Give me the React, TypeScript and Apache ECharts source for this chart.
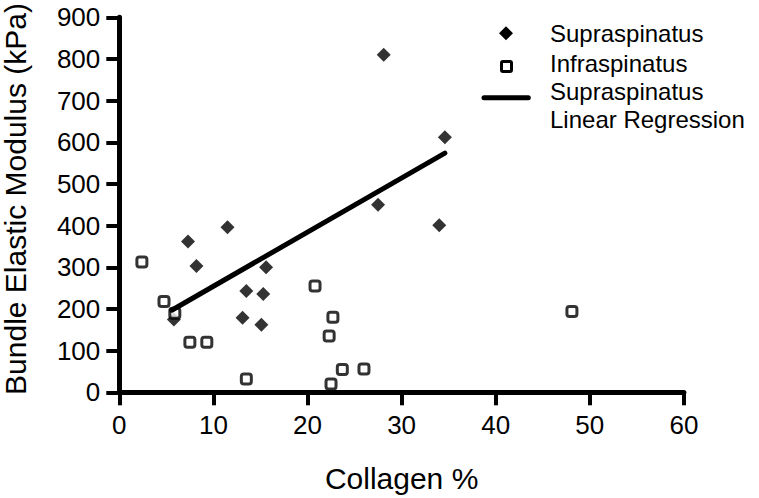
import React, { useEffect, useRef } from "react";
import * as echarts from "echarts";

const supraX = [5.8, 7.3, 8.2, 11.5, 13.1, 13.5, 15.1, 15.3, 15.6, 27.5, 28.1, 34.0, 34.6];
const supraY = [175, 362, 303, 396, 179, 243, 162, 236, 300, 450, 810, 401, 612];
const infraX = [2.4, 4.75, 5.9, 7.5, 9.3, 13.5, 20.8, 22.3, 22.5, 22.7, 23.7, 26.0, 48.1];
const infraY = [313, 218, 190, 120, 120, 32, 255, 135, 20, 180, 55, 56, 194];
const regX = [5.57, 34.6];
const regY = [197, 574];
const legendNames = ["Supraspinatus", "Infraspinatus", "Supraspinatus", "Linear Regression"];
const xTitle = "Collagen %";
const yTitle = "Bundle Elastic Modulus (kPa)";

const FONT = "'Liberation Sans', Arial, Helvetica, sans-serif";

export default function App() {
  const ref = useRef<HTMLDivElement>(null);
  useEffect(() => {
    if (!ref.current) return;
    const chart = echarts.init(ref.current, undefined, { renderer: "svg" });
    const zip = (xs: number[], ys: number[]) => xs.map((x, i) => [x, ys[i]]);
    const axisCommon = {
      axisLine: { show: true, lineStyle: { color: "#000", width: 5 } },
      axisTick: { show: true, length: 13, lineStyle: { color: "#000", width: 4 } },
      splitLine: { show: false },
    };
    const legendText = (text: string, y: number) => ({
      type: "text",
      left: 550,
      top: y - 13,
      style: { text, fill: "#000", font: `24px ${FONT}` },
    });
    chart.setOption({
      animation: false,
      backgroundColor: "#fff",
      grid: {
        left: 119.3,
        right: 75.1,
        top: 17.3,
        bottom: 105.7,
        containLabel: false,
        outerBoundsMode: "none",
      },
      xAxis: {
        type: "value",
        min: 0,
        max: 60,
        interval: 10,
        name: xTitle,
        nameLocation: "middle",
        nameGap: 70.7,
        nameTextStyle: { fontFamily: FONT, fontSize: 30, color: "#000" },
        axisLabel: { margin: 20, fontFamily: FONT, fontSize: 26, color: "#000" },
        ...axisCommon,
      },
      yAxis: {
        type: "value",
        min: 0,
        max: 900,
        interval: 100,
        axisLabel: { margin: 19, fontFamily: FONT, fontSize: 26, color: "#000" },
        ...axisCommon,
      },
      series: [
        {
          name: "Supraspinatus",
          type: "scatter",
          symbol: "diamond",
          symbolSize: 14,
          itemStyle: { color: "#000" },
          data: zip(supraX, supraY),
          z: 2,
        },
        {
          name: "Infraspinatus",
          type: "scatter",
          symbol: "roundRect",
          symbolSize: 10,
          itemStyle: { color: "#fff", borderColor: "#000", borderWidth: 3 },
          data: zip(infraX, infraY),
          z: 3,
        },
        {
          name: "Supraspinatus Linear Regression",
          type: "line",
          symbol: "none",
          lineStyle: { color: "#000", width: 5, cap: "round" },
          data: zip(regX, regY),
          z: 4,
        },
      ],
      graphic: [
        {
          type: "text",
          x: 15,
          y: 199,
          rotation: Math.PI / 2,
          style: {
            text: yTitle,
            fill: "#000",
            font: `30px ${FONT}`,
            align: "center",
            verticalAlign: "middle",
          },
        },
        {
          type: "polygon",
          shape: { points: [[506, 26.3], [513, 33.3], [506, 40.3], [499, 33.3]] },
          style: { fill: "#000" },
        },
        {
          type: "rect",
          shape: { x: 501.5, y: 61.5, width: 10, height: 10, r: 1.5 },
          style: { fill: "#fff", stroke: "#000", lineWidth: 3 },
        },
        {
          type: "line",
          shape: { x1: 484, y1: 97.7, x2: 528.3, y2: 97.7 },
          style: { stroke: "#000", lineWidth: 5, lineCap: "round" },
        },
        legendText(legendNames[0], 34.5),
        legendText(legendNames[1], 64.5),
        legendText(legendNames[2], 92.5),
        legendText(legendNames[3], 120),
      ],
    });
    return () => chart.dispose();
  }, []);
  return (
    <div
      ref={ref}
      style={{ position: "absolute", left: 0, top: 0, width: 759, height: 498 }}
    />
  );
}
